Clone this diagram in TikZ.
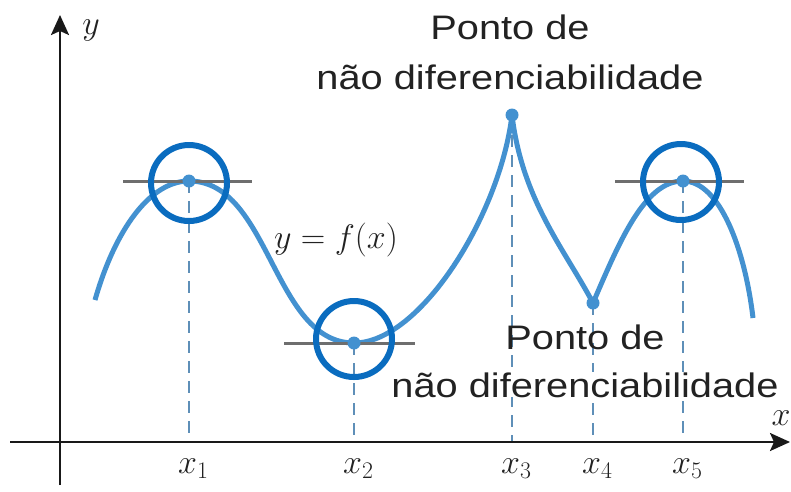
\RequirePackage{fix-cm}
\documentclass[tikz,border=0pt]{standalone}
\usepackage{fontspec}
\usepackage{tikz}
\usetikzlibrary{arrows.meta,positioning,shapes.geometric}
\newfontfamily\notefont[FakeStretch=1.17]{Liberation Sans}
\definecolor{curveblue}{HTML}{4391D0}
\definecolor{ringblue}{HTML}{0A6CBF}
\definecolor{guideblue}{HTML}{5E8FB8}
\definecolor{tangentgray}{HTML}{6E6E6E}
\definecolor{textgray}{HTML}{222222}
\tikzset{
  fd/axis/.style={line width=2.4pt, draw=black!90, -{Stealth[length=20pt,width=18pt,inset=4pt]}},
  fd/curve/.style={line width=5pt, draw=curveblue, line join=round},
  fd/guide/.style={line width=1.6pt, draw=guideblue, dash pattern=on 12pt off 8pt},
  fd/tangent/.style={line width=3pt, draw=tangentgray},
  fd/ring/.style={draw=ringblue, circle, line width=6pt, minimum size=76pt, inner sep=0pt},
  fd/dot/.style={fill=curveblue, circle, minimum size=13pt, inner sep=0pt},
  fd/note/.style={font={\notefont\fontsize{34}{50}\selectfont}, text=textgray, align=center, inner sep=0pt},
  fd/tick/.style={font={\fontsize{34}{40}\selectfont}, text=textgray, inner sep=0pt}
}

\begin{document}
\begin{tikzpicture}[x=1pt, y=-1pt]
  \useasboundingbox (0,0) rectangle (791,491);
  \coordinate (o) at (60,442);
  \coordinate (xstart) at (10,442);
  \coordinate (xend) at (790,442);
  \coordinate (ystart) at (60,485);
  \coordinate (yend) at (60,15);
  \coordinate (p1) at (189,181);
  \coordinate (p2) at (354,343);
  \coordinate (p3) at (512,115);
  \coordinate (p4) at (593,303);
  \coordinate (p5) at (683,181);
  \coordinate (a1) at (189,442);
  \coordinate (a2) at (354,442);
  \coordinate (a3) at (512,442);
  \coordinate (a4) at (593,442);
  \coordinate (a5) at (683,442);
  \coordinate (cstart) at (95,300);
  \coordinate (cend) at (753,318);
  \coordinate (t1l) at (123,181);
  \coordinate (t1r) at (252,181);
  \coordinate (t2l) at (284,343);
  \coordinate (t2r) at (415,343);
  \coordinate (t5l) at (615,181);
  \coordinate (t5r) at (744,181);

  \draw[fd/guide] (p1) -- (a1);
  \draw[fd/guide] (p2) -- (a2);
  \draw[fd/guide] (p3) -- (a3);
  \draw[fd/guide] (p4) -- (a4);
  \draw[fd/guide] (p5) -- (a5);

  \node[fd/note, anchor=north] (peaknote) at (510,15) {Ponto de\\não diferenciabilidade};
  \node[fd/note, anchor=base] (valleytop) at (585,349) {Ponto de};
  \node[fd/note, anchor=base, fill=white] (valleybottom) at (585,397) {não diferenciabilidade};

  \draw[fd/axis] (xstart) -- (xend);
  \draw[fd/axis] (ystart) -- (yend);
  \node[fd/tick] (ylab) at (91,30) {$y$};
  \node[fd/tick] (xlab) at (781,418) {$x$};

  \draw[fd/curve] (cstart) .. controls (115,230) and (150,181) .. (p1)
    .. controls (270,181) and (273,343) .. (p2)
    .. controls (420,343) and (500,215) .. (p3)
    .. controls (522,200) and (565,250) .. (p4)
    .. controls (620,240) and (645,181) .. (p5)
    .. controls (720,181) and (745,250) .. (cend);
  \node[fd/tick, anchor=base] (flab) at (336,248) {$y=f(x)$};

  \draw[fd/tangent] (t1l) -- (t1r);
  \draw[fd/tangent] (t2l) -- (t2r);
  \draw[fd/tangent] (t5l) -- (t5r);

  \node[fd/dot] (d1) at (p1) {};
  \node[fd/dot] (d2) at (p2) {};
  \node[fd/dot] (d3) at (p3) {};
  \node[fd/dot] (d4) at (p4) {};
  \node[fd/dot] (d5) at (p5) {};

  \node[fd/ring] (c1) at (189,183) {};
  \node[fd/ring] (c2) at (354,339) {};
  \node[fd/ring] (c5) at (681,182) {};

  \node[fd/tick, anchor=base west] (x1) at (178,473) {$x_1$};
  \node[fd/tick, anchor=base west] (x2) at (343,473) {$x_2$};
  \node[fd/tick, anchor=base west] (x3) at (501,473) {$x_3$};
  \node[fd/tick, anchor=base west] (x4) at (582,473) {$x_4$};
  \node[fd/tick, anchor=base west] (x5) at (672,473) {$x_5$};
\end{tikzpicture}
\end{document}
